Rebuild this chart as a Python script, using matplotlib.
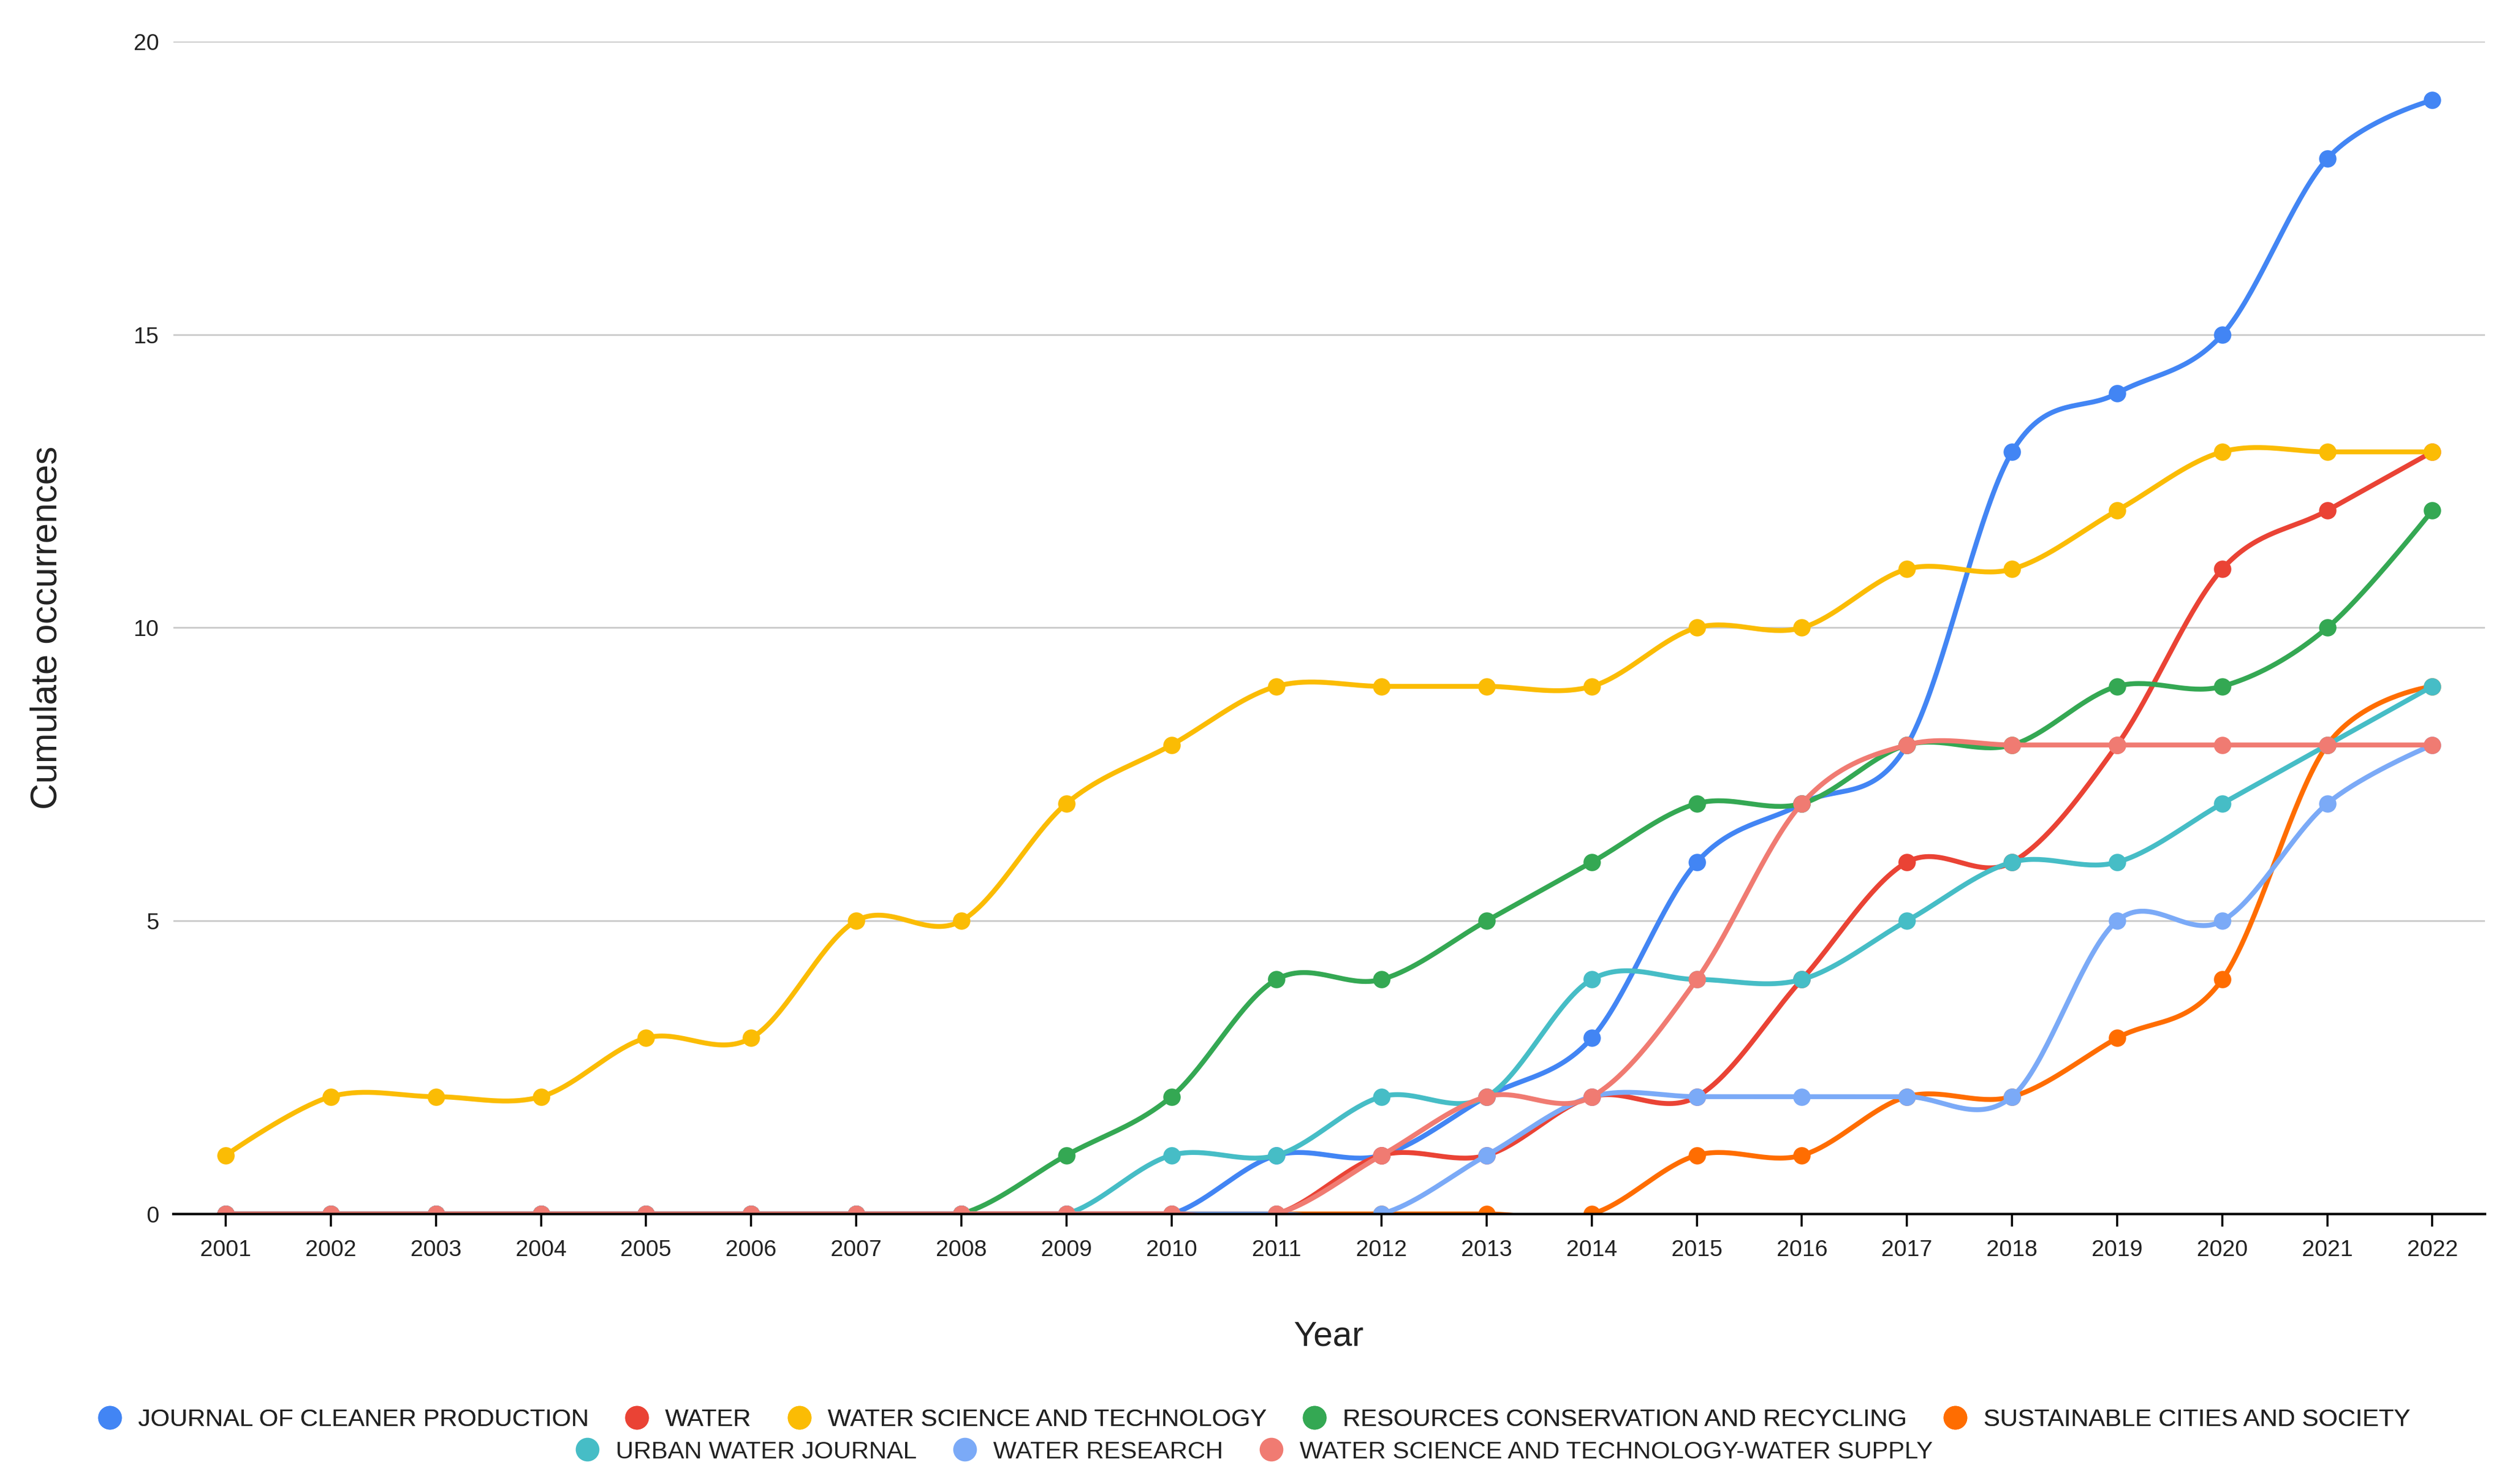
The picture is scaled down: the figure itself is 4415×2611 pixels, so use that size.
import numpy as np
import matplotlib.pyplot as plt
from matplotlib.lines import Line2D

plt.rcParams['font.family'] = ['Liberation Sans', 'DejaVu Sans']

years = list(range(2001, 2023))

# cumulative occurrences per journal, 2001..2022
cleaner_production = [0, 0, 0, 0, 0, 0, 0, 0, 0, 0, 1, 1, 2, 3, 6, 7, 8, 13, 14, 15, 18, 19]
water = [0, 0, 0, 0, 0, 0, 0, 0, 0, 0, 0, 1, 1, 2, 2, 4, 6, 6, 8, 11, 12, 13]
water_sci_tech = [1, 2, 2, 2, 3, 3, 5, 5, 7, 8, 9, 9, 9, 9, 10, 10, 11, 11, 12, 13, 13, 13]
resources_recycling = [0, 0, 0, 0, 0, 0, 0, 0, 1, 2, 4, 4, 5, 6, 7, 7, 8, 8, 9, 9, 10, 12]
sustainable_cities = [0, 0, 0, 0, 0, 0, 0, 0, 0, 0, 0, 0, 0, 0, 1, 1, 2, 2, 3, 4, 8, 9]
urban_water = [0, 0, 0, 0, 0, 0, 0, 0, 0, 1, 1, 2, 2, 4, 4, 4, 5, 6, 6, 7, 8, 9]
water_research = [0, 0, 0, 0, 0, 0, 0, 0, 0, 0, 0, 0, 1, 2, 2, 2, 2, 2, 5, 5, 7, 8]
wst_water_supply = [0, 0, 0, 0, 0, 0, 0, 0, 0, 0, 0, 1, 2, 2, 4, 7, 8, 8, 8, 8, 8, 8]

names = ["JOURNAL OF CLEANER PRODUCTION", "WATER", "WATER SCIENCE AND TECHNOLOGY",
         "RESOURCES CONSERVATION AND RECYCLING", "SUSTAINABLE CITIES AND SOCIETY",
         "URBAN WATER JOURNAL", "WATER RESEARCH", "WATER SCIENCE AND TECHNOLOGY-WATER SUPPLY"]
series = [cleaner_production, water, water_sci_tech, resources_recycling,
          sustainable_cities, urban_water, water_research, wst_water_supply]
colors = ["#4285F4", "#EA4335", "#FBBC04", "#34A853", "#FF6D01", "#46BDC6", "#7BAAF7", "#F07B72"]


def smooth(xs, ys, n=40):
    # bezier curve through the points, like the "function" curve type
    p = np.column_stack([xs, ys]).astype(float)
    out = []
    for i in range(len(p) - 1):
        p0 = p[i]
        p3 = p[i + 1]
        c1 = p0 + (p[i + 1] - p[i - 1]) / 6 if i > 0 else p0
        c2 = p3 - (p[i + 2] - p[i]) / 6 if i + 2 < len(p) else p3
        t = np.linspace(0, 1, n)[:, None]
        seg = ((1 - t) ** 3) * p0 + 3 * ((1 - t) ** 2) * t * c1 + 3 * (1 - t) * t ** 2 * c2 + t ** 3 * p3
        out.append(seg if i == 0 else seg[1:])
    out = np.vstack(out)
    return out[:, 0], out[:, 1]


fig = plt.figure(figsize=(22.075, 13.055), dpi=200)
ax = fig.add_axes([0.069, 0.182, 0.921, 0.790])

for vals, c, name in zip(series, colors, names):
    sx, sy = smooth(years, vals)
    ax.plot(sx, sy, color=c, lw=3.1, solid_capstyle='round', zorder=3)
    ax.plot(years, vals, 'o', color=c, ms=10, zorder=3)

ax.set_xlim(2000.5, 2022.5)
ax.set_ylim(0, 20)
ax.set_xticks(years)
ax.set_yticks([0, 5, 10, 15, 20])
ax.grid(axis='y', color='#cccccc', lw=1.1)
ax.set_axisbelow(True)
for s in ['left', 'right', 'top']:
    ax.spines[s].set_visible(False)
ax.spines['bottom'].set_color('#000000')
ax.spines['bottom'].set_linewidth(1.6)
ax.spines['bottom'].set_zorder(4)
ax.tick_params(axis='x', length=8, width=1.3, color='#000000', pad=8, labelsize=14.5, labelcolor='#222222')
ax.tick_params(axis='y', length=0, pad=9, labelsize=14.5, labelcolor='#222222')

ax.set_xlabel("Year", fontsize=22, color='#222222', labelpad=38)
ax.set_ylabel("Cumulate occurrences", fontsize=23, color='#222222', labelpad=44)

handles = [Line2D([], [], marker='o', ls='none', color=c, ms=14) for c in colors]
leg1 = fig.legend(handles[:5], names[:5], loc='center', bbox_to_anchor=(0.5, 0.0431), ncol=5,
                  frameon=False, fontsize=15.6, handlelength=0.8, handletextpad=0.75,
                  columnspacing=1.55, labelcolor='#222222', borderpad=0)
fig.add_artist(leg1)
fig.legend(handles[5:], names[5:], loc='center', bbox_to_anchor=(0.5, 0.0216), ncol=3,
           frameon=False, fontsize=15.6, handlelength=0.8, handletextpad=0.75,
           columnspacing=1.55, labelcolor='#222222', borderpad=0)

fig.savefig("out.png", dpi=200, facecolor='white')
